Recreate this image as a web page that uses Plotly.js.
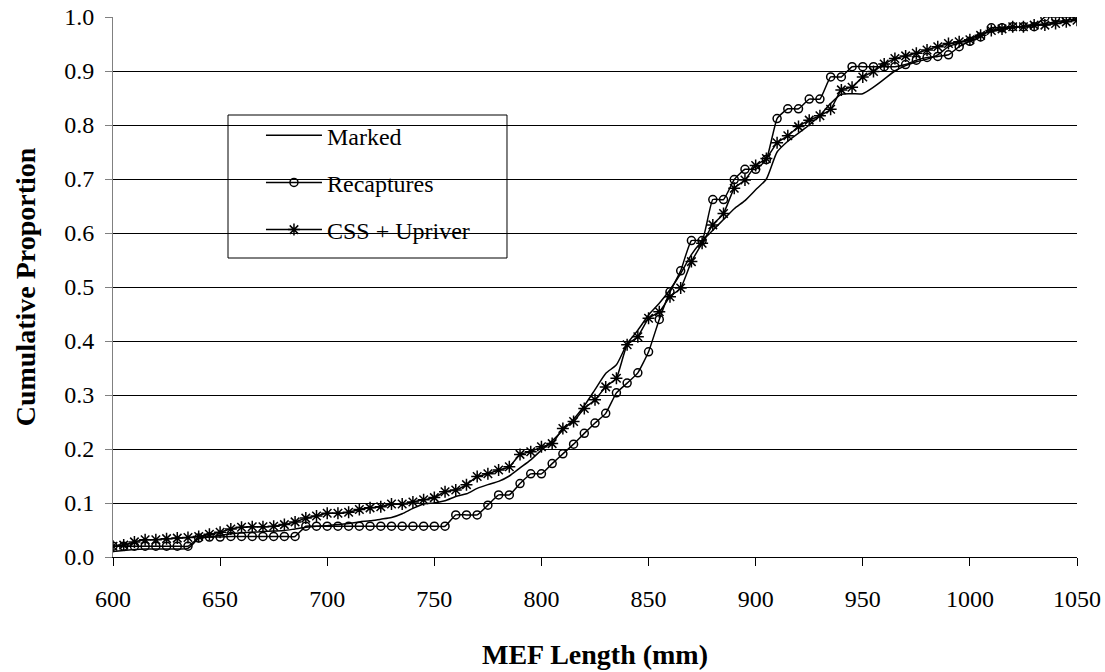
<!DOCTYPE html>
<html>
<head>
<meta charset="utf-8">
<script src="https://cdn.plot.ly/plotly-3.0.1.min.js"></script>
<style>html,body{margin:0;padding:0;background:#fff;}#chart{width:1105px;height:672px;}</style>
</head>
<body>
<div id="chart"></div>
<script>
const lengths = [600,605,610,615,620,625,630,635,640,645,650,655,660,665,670,675,680,685,690,695,700,705,710,715,720,725,730,735,740,745,750,755,760,765,770,775,780,785,790,795,800,805,810,815,820,825,830,835,840,845,850,855,860,865,870,875,880,885,890,895,900,905,910,915,920,925,930,935,940,945,950,955,960,965,970,975,980,985,990,995,1000,1005,1010,1015,1020,1025,1030,1035,1040,1045,1050];

const marked = [0.010,0.012,0.014,0.015,0.015,0.015,0.015,0.016,0.034,0.037,0.040,0.043,0.045,0.046,0.047,0.048,0.049,0.052,0.055,0.057,0.058,0.060,0.062,0.065,0.067,0.070,0.073,0.080,0.090,0.098,0.100,0.104,0.112,0.117,0.127,0.134,0.140,0.150,0.165,0.180,0.198,0.215,0.235,0.255,0.280,0.310,0.340,0.356,0.395,0.420,0.448,0.470,0.495,0.525,0.560,0.585,0.605,0.625,0.645,0.660,0.680,0.700,0.750,0.770,0.785,0.800,0.818,0.840,0.857,0.858,0.858,0.870,0.885,0.900,0.910,0.917,0.922,0.930,0.945,0.952,0.960,0.968,0.973,0.977,0.980,0.983,0.985,0.988,0.991,0.994,0.997];

const recaptures = [0.020,0.020,0.020,0.020,0.020,0.020,0.020,0.020,0.035,0.037,0.037,0.038,0.038,0.038,0.038,0.038,0.038,0.038,0.057,0.057,0.057,0.057,0.057,0.057,0.057,0.057,0.057,0.057,0.057,0.057,0.057,0.057,0.078,0.078,0.078,0.096,0.115,0.115,0.136,0.154,0.154,0.173,0.191,0.209,0.229,0.248,0.266,0.304,0.322,0.341,0.380,0.440,0.491,0.530,0.586,0.586,0.662,0.662,0.699,0.718,0.718,0.736,0.812,0.830,0.830,0.848,0.848,0.889,0.889,0.908,0.908,0.908,0.908,0.908,0.912,0.920,0.925,0.927,0.930,0.945,0.955,0.963,0.980,0.980,0.982,0.982,0.982,1.000,1.000,1.000,1.000];

const cssUpriver = [0.020,0.022,0.028,0.032,0.032,0.034,0.035,0.036,0.038,0.042,0.046,0.052,0.055,0.056,0.056,0.057,0.060,0.065,0.072,0.076,0.081,0.081,0.083,0.088,0.091,0.093,0.098,0.098,0.102,0.106,0.110,0.121,0.124,0.134,0.149,0.154,0.161,0.167,0.190,0.195,0.204,0.210,0.238,0.251,0.275,0.291,0.315,0.331,0.393,0.408,0.442,0.454,0.482,0.498,0.547,0.581,0.615,0.636,0.683,0.698,0.725,0.738,0.767,0.780,0.797,0.809,0.817,0.829,0.865,0.870,0.889,0.899,0.913,0.923,0.928,0.933,0.939,0.945,0.951,0.954,0.958,0.966,0.975,0.978,0.982,0.982,0.985,0.985,0.988,0.991,0.994];

const seriesNames = ["Marked", "Recaptures", "CSS + Upriver"];
const xTicks = [600,650,700,750,800,850,900,950,1000,1050];

const FONT = "Liberation Serif";

const traces = [
  {x: lengths, y: marked, name: seriesNames[0], mode: "lines", legendgroup: "a",
   line: {color: "#000", width: 1.5, shape: "spline", smoothing: 0.6}},
  {x: lengths, y: recaptures, name: seriesNames[1], mode: "lines+markers", legendgroup: "b",
   line: {color: "#000", width: 1.5, shape: "spline", smoothing: 0.4},
   marker: {symbol: "circle-open", size: 8, color: "#000", line: {width: 1.5, color: "#000"}}},
  {x: lengths, y: cssUpriver, name: seriesNames[2], mode: "lines+markers", legendgroup: "c",
   line: {color: "#000", width: 1.5, shape: "spline", smoothing: 0.4},
   marker: {symbol: "asterisk-open", size: 10, color: "#000", line: {width: 1.5, color: "#000"}}}
];

const layout = {
  width: 1105, height: 672,
  margin: {l: 113, r: 28, t: 17, b: 115},
  paper_bgcolor: "#fff", plot_bgcolor: "#fff",
  font: {family: FONT, size: 24, color: "#000"},
  showlegend: true,
  legend: {
    x: 0.1535, y: 0.822, xanchor: "left", yanchor: "top",
    bgcolor: "rgba(0,0,0,0)", borderwidth: 0,
    font: {family: FONT, size: 24, color: "#000"},
    itemwidth: 56, tracegroupgap: 13, traceorder: "grouped"
  },
  shapes: [{
    type: "rect", xref: "paper", yref: "paper",
    x0: 0.1193, x1: 0.4087, y0: 0.5537, y1: 0.8185,
    fillcolor: "#fff", line: {color: "#000", width: 1}, layer: "between"
  }],
  xaxis: {
    range: [600, 1050], tickvals: xTicks, ticktext: xTicks.map(String),
    showgrid: false, zeroline: false,
    showline: true, linecolor: "#000", linewidth: 1,
    ticks: "outside", ticklen: 8, tickcolor: "#000", tickwidth: 1,
    ticklabelstandoff: 12,
    tickfont: {family: FONT, size: 24, color: "#000"},
    title: {text: "<b>MEF Length (mm)</b>", font: {family: FONT, size: 28, color: "#000"}, standoff: 33}
  },
  yaxis: {
    range: [0, 1], dtick: 0.1, tick0: 0, tickformat: ".1f",
    showgrid: true, gridcolor: "#000", gridwidth: 1,
    zeroline: false,
    showline: true, linecolor: "#808080", linewidth: 1,
    ticks: "outside", ticklen: 7, tickcolor: "#808080", tickwidth: 1,
    ticklabelstandoff: 6,
    tickfont: {family: FONT, size: 24, color: "#000"},
    title: {text: "<b>Cumulative Proportion</b>", font: {family: FONT, size: 28, color: "#000"}, standoff: 20}
  }
};

Plotly.newPlot("chart", traces, layout, {displayModeBar: false, staticPlot: true});
</script>
</body>
</html>
